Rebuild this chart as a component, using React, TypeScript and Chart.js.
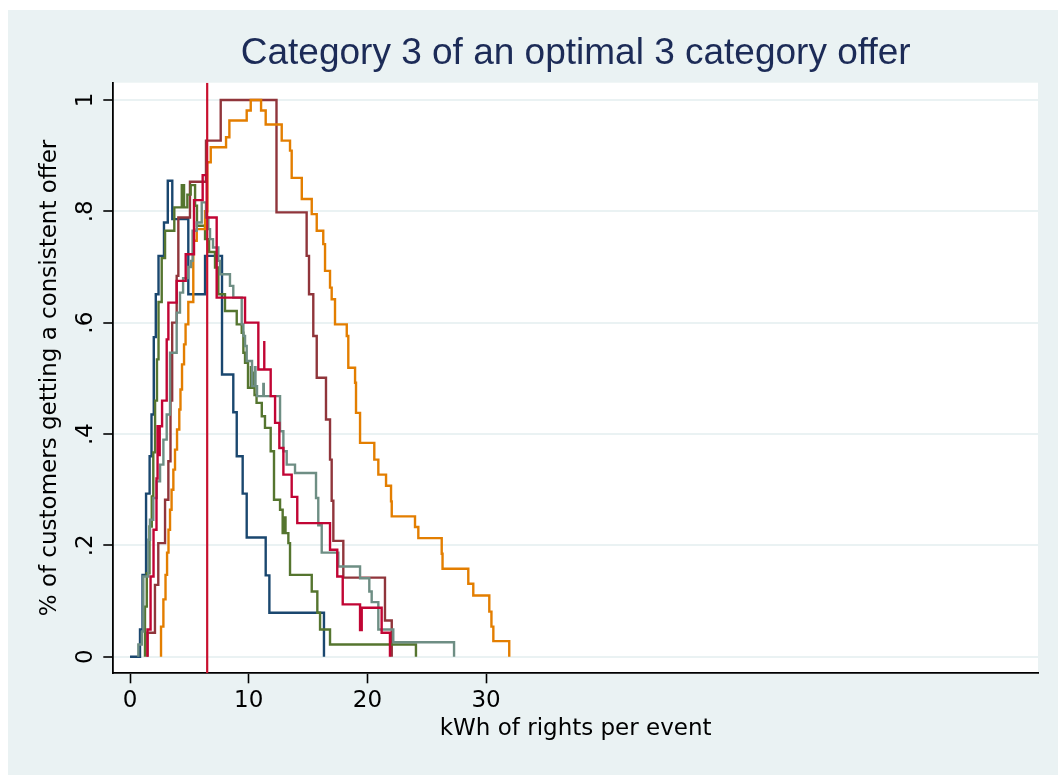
import { useEffect, useRef } from "react";
import { Chart, registerables } from "chart.js";

Chart.register(...registerables);

type Step = [number, number];

const FONT = "'DejaVu Sans', sans-serif";
const TITLE_FONT = "'Liberation Sans', Arial, sans-serif";

const chartTitle = "Category 3 of an optimal 3 category offer";
const xAxisTitle = "kWh of rights per event";
const yAxisTitle = "% of customers getting a consistent offer";

const xTickValues = [0, 10, 20, 30];
const yTickValues = [0, 0.2, 0.4, 0.6, 0.8, 1];
const yTickLabels = ["0", ".2", ".4", ".6", ".8", "1"];

const xRange: [number, number] = [-1.41, 76.5];
const yRange: [number, number] = [-0.0298, 1.031];

// reference level drawn as a vertical rule
const thresholdKwh = 6.5;

// Each series: [kWh at which the share changes, share from there on]
const navySteps: Step[] = [
  [0, 0], [0.84, 0.049], [1.05, 0.147], [1.35, 0.293], [1.65, 0.36], [1.81, 0.435],
  [2.0, 0.574], [2.17, 0.651], [2.4, 0.72], [2.86, 0.78], [3.18, 0.855], [3.56, 0.786],
  [4.91, 0.651], [6.32, 0.72], [7.75, 0.507], [8.7, 0.439], [8.99, 0.36], [9.49, 0.293],
  [9.83, 0.214], [11.43, 0.146], [11.74, 0.079], [16.34, 0],
];

const maroonSteps: Step[] = [
  [1.47, 0], [1.47, 0.043], [2.1, 0.129], [2.38, 0.204], [2.95, 0.282], [3.23, 0.351],
  [3.41, 0.46], [3.55, 0.6], [3.93, 0.684], [4.07, 0.789], [5.05, 0.853], [6.4, 0.927],
  [7.64, 1.0], [12.34, 0.798], [14.88, 0.72], [15.08, 0.651], [15.44, 0.576], [15.73, 0.501],
  [16.51, 0.426], [16.85, 0.354], [16.99, 0.28], [17.13, 0.208], [17.97, 0.142],
  [21.48, 0.065], [22.05, 0],
];

const greenSteps: Step[] = [
  [1.26, 0], [1.26, 0.09], [1.41, 0.15], [1.64, 0.234], [1.83, 0.288], [1.96, 0.367],
  [2.11, 0.46], [2.27, 0.534], [2.4, 0.637], [2.67, 0.716], [2.95, 0.765], [3.73, 0.807],
  [4.36, 0.847], [4.55, 0.807], [4.83, 0.83], [5.11, 0.847], [5.48, 0.81], [5.64, 0.774],
  [6.32, 0.75], [6.66, 0.727], [7.16, 0.699], [7.44, 0.651], [8.0, 0.621], [8.99, 0.597],
  [9.41, 0.582], [9.55, 0.546], [9.69, 0.528], [9.94, 0.483], [10.19, 0.52], [10.24, 0.483],
  [10.45, 0.51], [10.49, 0.47], [10.66, 0.456], [11.1, 0.432], [11.37, 0.411], [11.85, 0.369],
  [12.13, 0.282], [12.64, 0.264], [12.86, 0.222], [13.06, 0.25], [13.1, 0.222], [13.34, 0.204],
  [13.48, 0.147], [15.31, 0.117], [15.78, 0.079], [16.01, 0.049], [16.85, 0.022], [24.09, 0],
];

const orangeSteps: Step[] = [
  [2.61, 0], [2.61, 0.054], [2.81, 0.103], [2.99, 0.147], [3.12, 0.187], [3.24, 0.228],
  [3.37, 0.264], [3.5, 0.3], [3.65, 0.336], [3.79, 0.372], [3.96, 0.408], [4.15, 0.444],
  [4.25, 0.48], [4.38, 0.525], [4.55, 0.561], [4.68, 0.597], [4.91, 0.637], [5.33, 0.747],
  [5.62, 0.768], [6.32, 0.8], [6.51, 0.888], [6.8, 0.915], [8.09, 0.933], [8.37, 0.963],
  [9.83, 0.981], [10.17, 1.0], [11.04, 0.981], [11.43, 0.956], [12.78, 0.927], [13.48, 0.909],
  [13.62, 0.86], [14.47, 0.822], [15.31, 0.795], [15.73, 0.765], [16.28, 0.741], [16.43, 0.693],
  [16.85, 0.663], [16.99, 0.642], [17.27, 0.597], [18.26, 0.576], [18.39, 0.519], [18.96, 0.492],
  [19.04, 0.438], [19.38, 0.384], [20.58, 0.354], [20.92, 0.327], [21.57, 0.307], [21.99, 0.279],
  [22.05, 0.252], [24.01, 0.233], [24.29, 0.213], [26.26, 0.185], [26.33, 0.158], [28.5, 0.131],
  [28.92, 0.11], [30.27, 0.081], [30.45, 0.054], [30.61, 0.028], [31.95, 0],
];

const tealSteps: Step[] = [
  [0.7, 0], [0.7, 0.022], [0.99, 0.045], [1.12, 0.144], [1.54, 0.21], [1.68, 0.246],
  [1.96, 0.285], [2.25, 0.315], [2.53, 0.345], [2.81, 0.39], [3.09, 0.435], [3.37, 0.546],
  [3.93, 0.618], [4.21, 0.654], [4.47, 0.68], [4.89, 0.7], [5.14, 0.711], [5.27, 0.765],
  [5.62, 0.78], [6.04, 0.816], [6.4, 0.789], [6.6, 0.768], [6.74, 0.75], [6.99, 0.735],
  [7.44, 0.711], [7.58, 0.687], [8.42, 0.666], [8.7, 0.645], [9.41, 0.597], [9.55, 0.576],
  [9.69, 0.558], [9.83, 0.531], [10.28, 0.486], [10.53, 0.52], [10.57, 0.486], [10.7, 0.468],
  [11.23, 0.49], [11.27, 0.468], [12.64, 0.405], [12.92, 0.369], [13.2, 0.345], [13.9, 0.33],
  [15.67, 0.285], [15.86, 0.236], [16.15, 0.187], [17.55, 0.162], [19.38, 0.141], [20.16, 0.117],
  [20.36, 0.098], [20.92, 0.049], [22.18, 0.026], [27.3, 0],
];

const cranberrySteps: Step[] = [
  [1.47, 0], [1.47, 0.049], [1.73, 0.144], [1.98, 0.228], [2.23, 0.32], [2.32, 0.414],
  [2.5, 0.36], [2.5, 0.414], [2.7, 0.46], [3.09, 0.57], [3.23, 0.636], [3.93, 0.675],
  [4.69, 0.723], [5.39, 0.82], [6.12, 0.865], [6.46, 0.789], [7.3, 0.645], [9.69, 0.6],
  [10.81, 0.516], [11.31, 0.567], [11.31, 0.516], [11.85, 0.468], [12.22, 0.42], [12.58, 0.375],
  [12.92, 0.327], [13.62, 0.287], [14.09, 0.24], [16.85, 0.192], [17.46, 0.144], [17.92, 0.094],
  [19.38, 0.048], [19.52, 0.088], [21.2, 0.043], [21.9, 0],
];

const seriesList = [
  { steps: cranberrySteps, color: "#c10534", order: 1 },
  { steps: tealSteps, color: "#6e8e84", order: 2 },
  { steps: orangeSteps, color: "#e37e00", order: 3 },
  { steps: greenSteps, color: "#55752f", order: 4 },
  { steps: maroonSteps, color: "#90353b", order: 5 },
  { steps: navySteps, color: "#1a476f", order: 6 },
];

const plotBackground = {
  id: "plotBackground",
  beforeDraw(chart: Chart) {
    const { ctx, chartArea } = chart;
    ctx.save();
    ctx.fillStyle = "#ffffff";
    ctx.fillRect(chartArea.left, chartArea.top, chartArea.right - chartArea.left, chartArea.bottom - chartArea.top);
    ctx.restore();
  },
};

export default function App() {
  const canvasRef = useRef<HTMLCanvasElement | null>(null);

  useEffect(() => {
    const canvas = canvasRef.current;
    if (!canvas) return;

    const datasets: any[] = seriesList.map((s) => ({
      data: s.steps.map(([x, y]) => ({ x, y })),
      borderColor: s.color,
      backgroundColor: s.color,
      borderWidth: 2.4,
      pointRadius: 0,
      stepped: "before",
      fill: false,
      order: s.order,
    }));

    datasets.push({
      data: [
        { x: thresholdKwh, y: yRange[0] },
        { x: thresholdKwh, y: yRange[1] },
      ],
      borderColor: "#c8102e",
      borderWidth: 2.2,
      pointRadius: 0,
      fill: false,
      order: 0,
    });

    const chart = new Chart(canvas, {
      type: "line",
      data: { datasets },
      plugins: [plotBackground],
      options: {
        animation: false,
        responsive: false,
        devicePixelRatio: 1,
        layout: { padding: { top: 0, right: 20, bottom: 0, left: 0 } },
        plugins: {
          legend: { display: false },
          tooltip: { enabled: false },
          title: {
            display: true,
            text: chartTitle,
            fullSize: false,
            color: "#1c2b57",
            font: { family: TITLE_FONT, size: 37, weight: "normal", lineHeight: 1.2 },
            padding: { top: 22, bottom: 6.3 },
          },
        },
        scales: {
          x: {
            type: "linear",
            min: xRange[0],
            max: xRange[1],
            afterBuildTicks: (scale: any) => {
              scale.ticks = xTickValues.map((value) => ({ value }));
            },
            afterFit: (scale: any) => {
              scale.height = 101.7;
            },
            grid: {
              drawOnChartArea: false,
              drawTicks: true,
              tickLength: 10,
              tickColor: "#000000",
              tickWidth: 1.6,
            },
            border: { color: "#000000", width: 1.8 },
            ticks: {
              color: "#000000",
              font: { family: FONT, size: 23, lineHeight: 1.2 },
              padding: 3.9,
              maxRotation: 0,
              autoSkip: false,
              callback: (value: any) => String(value),
            },
            title: {
              display: true,
              text: xAxisTitle,
              color: "#000000",
              font: { family: FONT, size: 23, lineHeight: 1.2 },
              padding: { top: 0, bottom: 32.5 },
            },
          },
          y: {
            type: "linear",
            min: yRange[0],
            max: yRange[1],
            afterBuildTicks: (scale: any) => {
              scale.ticks = yTickValues.map((value) => ({ value }));
            },
            afterFit: (scale: any) => {
              scale.width = 105.3;
            },
            grid: {
              color: "#eaf2f3",
              lineWidth: 2,
              drawTicks: true,
              tickLength: 10,
              tickColor: "#000000",
              tickWidth: 1.6,
            },
            border: { color: "#000000", width: 1.8 },
            ticks: {
              color: "#000000",
              font: { family: FONT, size: 23, lineHeight: 1.2 },
              padding: 6.3,
              minRotation: 90,
              maxRotation: 90,
              crossAlign: "center",
              autoSkip: false,
              callback: (_value: any, index: number) => yTickLabels[index],
            },
            title: {
              display: true,
              text: yAxisTitle,
              color: "#000000",
              font: { family: FONT, size: 23, lineHeight: 1.2 },
              padding: { top: 28.2, bottom: 0 },
            },
          },
        },
      } as any,
    });

    return () => chart.destroy();
  }, []);

  return (
    <div
      style={{
        position: "absolute",
        left: 8,
        top: 10,
        width: 1050,
        height: 765,
        background: "#eaf2f3",
        overflow: "hidden",
      }}
    >
      <canvas
        ref={canvasRef}
        width={1050}
        height={765}
        style={{ display: "block", width: 1050, height: 765 }}
      />
    </div>
  );
}
